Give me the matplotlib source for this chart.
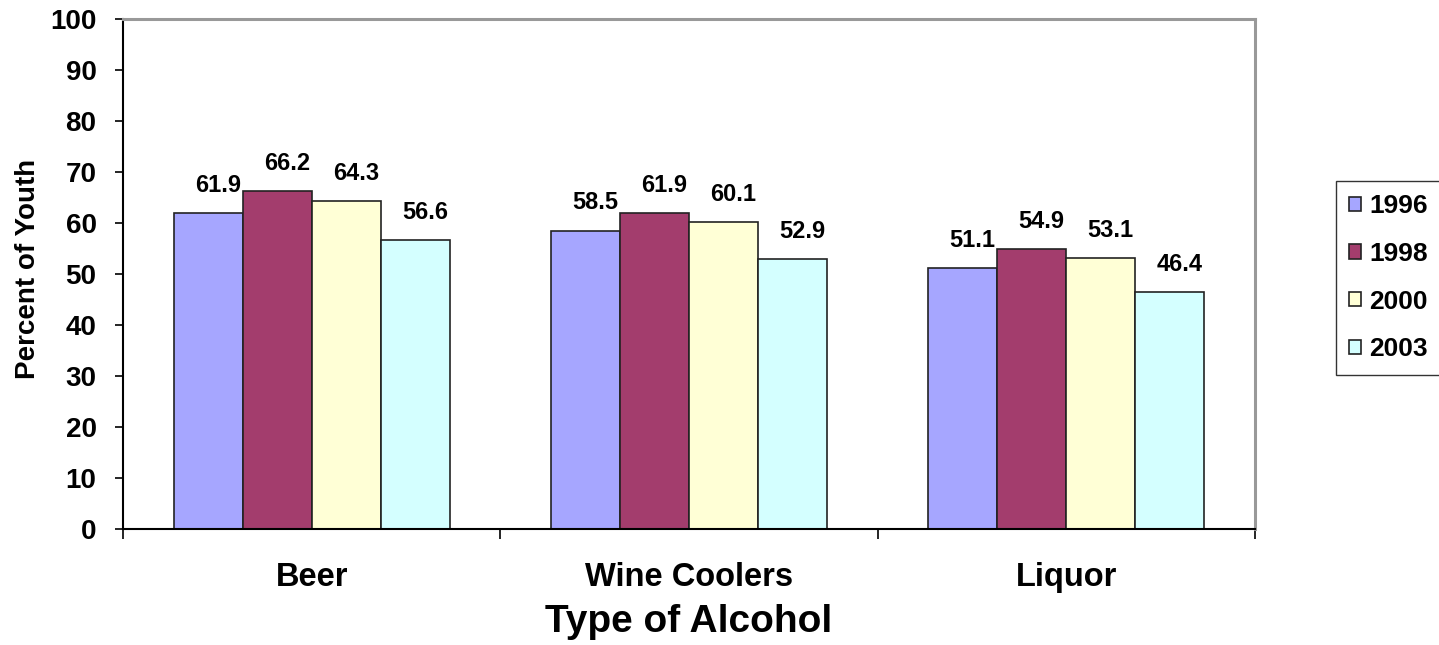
import numpy as np
import matplotlib
matplotlib.use("Agg")
import matplotlib.pyplot as plt

categories = ["Beer", "Wine Coolers", "Liquor"]
years = ["1996", "1998", "2000", "2003"]
v1996 = [61.9, 58.5, 51.1]
v1998 = [66.2, 61.9, 54.9]
v2000 = [64.3, 60.1, 53.1]
v2003 = [56.6, 52.9, 46.4]
colors = ["#A6A6FF", "#A33D6D", "#FFFFD6", "#D4FFFF"]

plt.rcParams['font.family'] = ['Liberation Sans', 'DejaVu Sans']
plt.rcParams['font.weight'] = 'bold'

fig = plt.figure(figsize=(14.39, 6.45), dpi=100)
ax = fig.add_axes([123/1439, 1 - 529/645, (1255-123)/1439, (529-19)/645])

x = np.arange(len(categories))
w = 0.183
series = [v1996, v1998, v2000, v2003]
for i, vals in enumerate(series):
    pos = x + (i - 1.5) * w
    ax.bar(pos, vals, w, color=colors[i], edgecolor="#222222", linewidth=1.2,
           label=years[i], zorder=2)
    for p, v in zip(pos, vals):
        ax.annotate(f"{v:.1f}", (p, v), xytext=(7, 20), textcoords="offset points",
                    ha="center", va="center", fontsize=17, fontweight="bold")

ax.set_xlim(-0.5, 2.5)
ax.set_ylim(0, 100)
ax.set_yticks(range(0, 101, 10))
ax.tick_params(axis='y', labelsize=20, length=6, width=1.2, pad=13, direction='out')
ax.set_xticks(x)
ax.set_xticklabels(categories)
ax.tick_params(axis='x', which='major', labelsize=23.5, length=0, pad=24)
ax.set_xticks([-0.5, 0.5, 1.5, 2.5], minor=True)
ax.tick_params(axis='x', which='minor', length=7, width=1.2, direction='out')

ax.spines['left'].set_color('black')
ax.spines['bottom'].set_color('black')
ax.spines['left'].set_linewidth(1.5)
ax.spines['bottom'].set_linewidth(1.5)
ax.spines['top'].set_color('#999999')
ax.spines['right'].set_color('#999999')
ax.spines['top'].set_linewidth(2.2)
ax.spines['right'].set_linewidth(2.2)

ax.set_ylabel("Percent of Youth", fontsize=20, fontweight="bold", labelpad=5)
ax.yaxis.set_label_coords(-0.072, 0.51)
ax.set_xlabel("Type of Alcohol", fontsize=28, fontweight="bold", labelpad=8)

leg = fig.legend(loc="upper left", bbox_to_anchor=(1336/1439, 1 - 181/645),
                 prop={'size': 19, 'weight': 'bold'}, frameon=True, fancybox=False,
                 edgecolor="black", handlelength=0.46, handleheight=0.46,
                 handletextpad=0.3, labelspacing=0.9, borderpad=0.5, borderaxespad=0)
leg.get_frame().set_linewidth(1.0)

fig.savefig("out.png", dpi=100)
